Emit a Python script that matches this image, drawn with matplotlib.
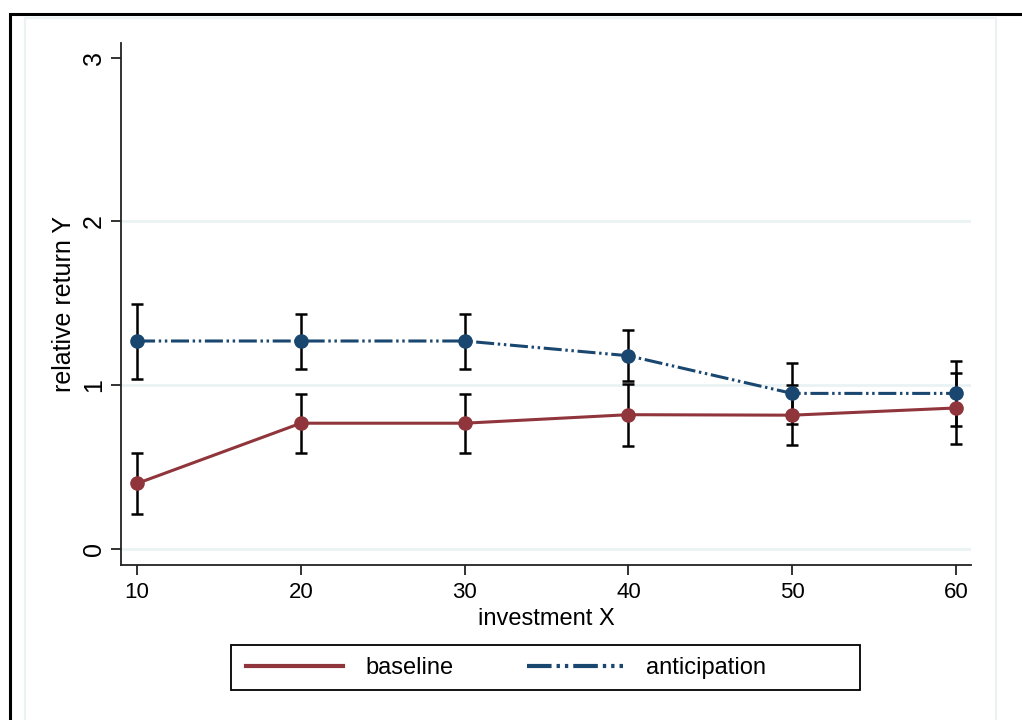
import numpy as np
import matplotlib
matplotlib.use("Agg")
import matplotlib.pyplot as plt
from matplotlib.patches import Rectangle

plt.rcParams['font.family'] = ['Liberation Sans', 'DejaVu Sans']

# data
invest = [10, 20, 30, 40, 50, 60]
base_y = [0.40, 0.768, 0.768, 0.82, 0.817, 0.861]
base_lo = [0.214, 0.588, 0.588, 0.63, 0.632, 0.641]
base_hi = [0.587, 0.947, 0.947, 1.01, 1.00, 1.075]
antic_y = [1.27, 1.27, 1.27, 1.18, 0.95, 0.95]
antic_lo = [1.04, 1.098, 1.098, 1.025, 0.765, 0.753]
antic_hi = [1.495, 1.435, 1.435, 1.335, 1.135, 1.145]

red = "#90353B"
navy = "#1A476F"
grid_c = "#EAF2F3"

W, H = 1022, 720
fig = plt.figure(figsize=(W / 100, H / 100), dpi=100)

# outer black frame and light graph-region frame
fig.patches.append(Rectangle((10 / W, -0.1), 1.2, 1 - 14 / H + 0.1, transform=fig.transFigure,
                             fill=False, ec="black", lw=2.2, zorder=0))
fig.patches.append(Rectangle((25 / W, -0.1), (996 - 25) / W, 1 - 18 / H + 0.1, transform=fig.transFigure,
                             fill=False, ec=grid_c, lw=1.6, zorder=0))

ax = fig.add_axes([121 / W, 1 - 565 / H, (971 - 121) / W, (565 - 43) / H])
ax.set_facecolor("none")

x = np.array(invest)
b = np.array(base_y)
a = np.array(antic_y)

ax.errorbar(x, b, yerr=[b - np.array(base_lo), np.array(base_hi) - b], fmt="none",
            ecolor="black", elinewidth=1.8, capsize=4.5, capthick=1.8, zorder=2)
ax.errorbar(x, a, yerr=[a - np.array(antic_lo), np.array(antic_hi) - a], fmt="none",
            ecolor="black", elinewidth=1.8, capsize=4.5, capthick=1.8, zorder=2)

ax.plot(x, b, color=red, lw=2.2, marker="o", ms=9.5, label="baseline", zorder=3)
ax.plot(x, a, color=navy, lw=2.2, marker="o", ms=9.5, label="anticipation",
        linestyle=(0, (5.9, 1.2, 0.8, 1.2, 0.8, 1.2)), zorder=3)

ax.set_xlim(9.02, 60.92)
ax.set_ylim(-0.098, 3.09)
ax.set_xticks([10, 20, 30, 40, 50, 60])
ax.set_yticks([0, 1, 2, 3])
for yv in [0, 1, 2]:
    ax.axhline(yv, color=grid_c, lw=2, zorder=1)

for s in ["top", "right"]:
    ax.spines[s].set_visible(False)
for s in ["left", "bottom"]:
    ax.spines[s].set_linewidth(1.3)
    ax.spines[s].set_color("#222222")

ax.tick_params(axis="both", length=7, width=1.3, color="#222222", pad=5)
ax.tick_params(axis="x", labelsize=16)
ax.tick_params(axis="y", labelsize=18, pad=4)
plt.setp(ax.get_yticklabels(), rotation=90, va="center")
ax.set_xlabel("investment X", fontsize=17, labelpad=4)
ax.set_ylabel("relative return Y", fontsize=18, labelpad=4)

# legend: entries without frame, box drawn separately (Stata-style padding)
leg = fig.legend(*ax.get_legend_handles_labels(), loc="center left",
                 bbox_to_anchor=(246 / W, 1 - 668 / H), ncol=2, fontsize=17,
                 frameon=False, handlelength=4.1, columnspacing=3.1, handletextpad=0.95,
                 borderpad=0, borderaxespad=0)
for h in leg.legend_handles:
    h.set_marker("")
    h.set_linewidth(3)
fig.patches.append(Rectangle((231 / W, 1 - 690 / H), (860 - 231) / W, 45 / H,
                             transform=fig.transFigure, fill=False, ec="black", lw=1.3))

fig.savefig("out.png", dpi=100, facecolor="white")
